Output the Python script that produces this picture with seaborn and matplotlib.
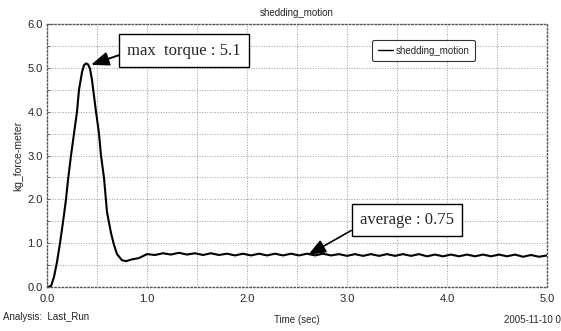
import numpy as np
import matplotlib
matplotlib.use('Agg')
import matplotlib.pyplot as plt
import seaborn as sns

# transient part of the torque curve
time_rise = [0.00, 0.04, 0.07, 0.10, 0.13, 0.16, 0.19, 0.21, 0.24, 0.27, 0.30,
             0.32, 0.35, 0.37, 0.39, 0.41, 0.43, 0.45, 0.49, 0.52, 0.54, 0.57,
             0.60, 0.64, 0.67, 0.70, 0.75, 0.79, 0.85, 0.92]
torque_rise = [0.00, 0.02, 0.23, 0.57, 1.00, 1.48, 2.00, 2.44, 3.00, 3.50, 4.00,
               4.50, 4.90, 5.06, 5.10, 5.08, 4.98, 4.72, 4.00, 3.50, 3.00, 2.49,
               1.71, 1.23, 0.96, 0.75, 0.61, 0.59, 0.63, 0.66]

# small ripple around the average after 1 s
time_ripple = [1.00, 1.08, 1.16, 1.24, 1.32, 1.40, 1.48, 1.56, 1.64, 1.72, 1.80,
               1.88, 1.96, 2.04, 2.12, 2.20, 2.28, 2.36, 2.44, 2.52, 2.60, 2.68,
               2.76, 2.84, 2.92, 3.00, 3.08, 3.16, 3.24, 3.32, 3.40, 3.48, 3.56,
               3.64, 3.72, 3.80, 3.88, 3.96, 4.04, 4.12, 4.20, 4.28, 4.36, 4.44,
               4.52, 4.60, 4.68, 4.76, 4.84, 4.92, 5.00]
torque_ripple = [0.75, 0.73, 0.77, 0.74, 0.78, 0.74, 0.77, 0.73, 0.77, 0.73, 0.76,
                 0.72, 0.76, 0.72, 0.76, 0.72, 0.76, 0.72, 0.76, 0.72, 0.76, 0.72,
                 0.76, 0.72, 0.75, 0.71, 0.75, 0.71, 0.75, 0.71, 0.75, 0.71, 0.75,
                 0.71, 0.75, 0.70, 0.74, 0.70, 0.74, 0.70, 0.74, 0.70, 0.74, 0.70,
                 0.74, 0.70, 0.74, 0.69, 0.73, 0.69, 0.72]

series_name = 'shedding_motion'
x_ticks = [0.0, 1.0, 2.0, 3.0, 4.0, 5.0]
y_ticks = [0.0, 1.0, 2.0, 3.0, 4.0, 5.0, 6.0]
peak_time, peak_val = 0.44, 5.07
avg_time, avg_val = 2.61, 0.73

time = time_rise + time_ripple
torque = torque_rise + torque_ripple

sns.set_theme(style="white")
plt.rcParams['font.family'] = ['Liberation Sans Narrow', 'Liberation Sans', 'DejaVu Sans']

fig = plt.figure(figsize=(5.61, 3.31), dpi=100)
ax = fig.add_axes([47 / 561, 44 / 331, 500 / 561, 263 / 331])

sns.lineplot(x=time, y=torque, ax=ax, color='black', linewidth=1.5,
             sort=False, estimator=None, label=series_name)

ax.set_xlim(0, 5)
ax.set_ylim(0, 6)
ax.set_xticks(x_ticks)
ax.set_yticks(y_ticks)
ax.set_xticks(np.arange(0, 5.01, 0.5), minor=True)
ax.set_yticks(np.arange(0, 6.01, 0.5), minor=True)
ax.set_xticklabels([f'{v:.1f}' for v in x_ticks], fontsize=8)
ax.set_yticklabels([f'{v:.1f}' for v in y_ticks], fontsize=8)
ax.tick_params(axis='both', which='both', direction='in', length=2, width=0.6,
               color='#555555', pad=3)
ax.tick_params(axis='x', which='both', bottom=False, pad=5)
ax.tick_params(axis='y', which='both', left=True)

ax.grid(True, which='both', linestyle=':', linewidth=0.7, color='#999999')
for sp in ax.spines.values():
    sp.set_linestyle(':')
    sp.set_color('#555555')
    sp.set_linewidth(1.0)

ax.set_title(series_name, fontsize=7, pad=6)
ax.set_xlabel('')
ax.set_ylabel('kg_force-meter', fontsize=7.5, labelpad=3)

leg = ax.legend(loc='center', bbox_to_anchor=(0.753, 0.899), fontsize=7,
                frameon=True, fancybox=True, edgecolor='black', handlelength=1.6,
                handletextpad=0.2, borderpad=0.6, borderaxespad=0)
leg.get_frame().set_linewidth(0.8)
for h in leg.get_lines():
    h.set_linewidth(1.0)

box = dict(boxstyle='square,pad=0.5', fc='white', ec='black', lw=1.0)
ax.annotate('max  torque : 5.1', xy=(peak_time, peak_val), xytext=(1.37, 5.39),
            ha='center', va='center', fontsize=12, family='Liberation Serif',
            bbox=box, annotation_clip=False,
            arrowprops=dict(arrowstyle='-|>,head_length=0.9,head_width=0.35',
                            color='black', lw=1.4, relpos=(0, 0.4), shrinkA=0, shrinkB=0))
ax.annotate('average : 0.75', xy=(avg_time, avg_val), xytext=(3.60, 1.53),
            ha='center', va='center', fontsize=12, family='Liberation Serif',
            bbox=box, annotation_clip=False,
            arrowprops=dict(arrowstyle='-|>,head_length=0.9,head_width=0.35',
                            color='black', lw=1.2, relpos=(0, 0.15), shrinkA=0, shrinkB=0))

fig.text(3 / 561, 1 - 317 / 331, 'Analysis:  Last_Run', fontsize=7, va='center', ha='left')
fig.text(297 / 561, 1 - 320 / 331, 'Time (sec)', fontsize=7, va='center', ha='center')
fig.text(1.0, 1 - 320 / 331, '2005-11-10 0', fontsize=7, va='center', ha='right')

fig.savefig('out.png', dpi=100)
